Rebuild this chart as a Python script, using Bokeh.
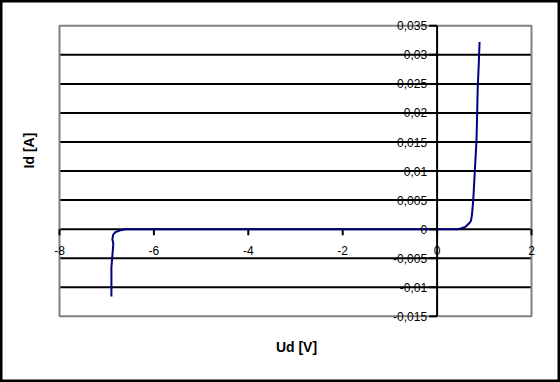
import math
from bokeh.plotting import figure
from bokeh.models import ColumnDataSource
from bokeh.core.properties import value
from bokeh.embed import file_html
from bokeh.resources import INLINE

# ---- data ----
voltage = [-6.90, -6.90, -6.86, -6.88, -6.86, -6.81, -6.71, -6.60, -4.0, -2.0, 0.0,
           0.45, 0.53, 0.60, 0.64, 0.69, 0.72, 0.74, 0.765, 0.80, 0.835, 0.85, 0.86, 0.88, 0.90]
current = [-0.0116, -0.0066, -0.0025, -0.0017, -0.0009, -0.0005, -0.0002, 0.0, 0.0, 0.0, 0.0,
           0.0, 0.0002, 0.0004, 0.0007, 0.0011, 0.0015, 0.0026, 0.0049, 0.0101, 0.0153, 0.0204,
           0.0242, 0.0279, 0.0322]

x_ticks = [-8, -6, -4, -2, 0, 2]
x_tick_labels = ["-8", "-6", "-4", "-2", "0", "2"]
y_ticks = [0.035, 0.03, 0.025, 0.02, 0.015, 0.01, 0.005, 0.0, -0.005, -0.01, -0.015]
y_tick_labels = ["0,035", "0,03", "0,025", "0,02", "0,015", "0,01", "0,005", "0",
                 "-0,005", "-0,01", "-0,015"]
x_title = "Ud [V]"
y_title = "Id [A]"

X_MIN, X_MAX = -8, 2
Y_MIN, Y_MAX = -0.015, 0.035

# pixel geometry of the plot area inside the 560x382 canvas
W, H = 560, 382
PL, PR, PT, PB = 59, 531, 25.3, 315.8
sx = (PR - PL) / (X_MAX - X_MIN)
sy = (PB - PT) / (Y_MAX - Y_MIN)
xr = (X_MIN - PL / sx, X_MAX + (W - PR) / sx)
yr = (Y_MIN - (H - PB) / sy, Y_MAX + PT / sy)

p = figure(width=W, height=H, x_range=xr, y_range=yr, output_backend="svg",
           toolbar_location=None, x_axis_location=None, y_axis_location=None,
           min_border=0, background_fill_color="white", border_fill_color="white")
p.xgrid.grid_line_color = None
p.ygrid.grid_line_color = None
p.outline_line_color = "black"
p.outline_line_width = 4

# horizontal gridlines (interior ticks)
inner = [t for t in y_ticks if Y_MIN < t < Y_MAX]
p.segment(x0=[X_MIN] * len(inner), x1=[X_MAX] * len(inner), y0=inner, y1=inner,
          line_color="black", line_width=2)

# plot-area border
p.quad(left=[X_MIN], right=[X_MAX], bottom=[Y_MIN], top=[Y_MAX],
       fill_color=None, line_color="#808080", line_width=2)

# x tick marks (below the y=0 axis)
p.ray(x=x_ticks, y=[0] * len(x_ticks), length=6, length_units="screen",
      angle=-math.pi / 2, line_color="black", line_width=2)

# data curve
src = ColumnDataSource(dict(v=voltage, i=current))
p.line("v", "i", source=src, line_color="#000080", line_width=2)

# y axis line and its ticks
p.segment(x0=[0], x1=[0], y0=[Y_MIN], y1=[Y_MAX], line_color="black", line_width=2)
p.ray(x=[0] * len(y_ticks), y=y_ticks, length=8, length_units="screen",
      angle=math.pi, line_color="black", line_width=2)

# tick labels
font = value("Liberation Sans")
p.text(x=[0] * len(y_ticks), y=y_ticks, text=y_tick_labels, x_offset=-10,
       text_align="right", text_baseline="middle", text_font=font,
       text_font_size="12px", text_color="black")
p.text(x=x_ticks, y=[0] * len(x_ticks), text=x_tick_labels, y_offset=21,
       text_align="center", text_baseline="middle", text_font=font,
       text_font_size="12px", text_color="black")

# axis titles
p.text(x=[X_MIN + (296 - PL) / sx], y=[Y_MAX - (346 - PT) / sy], text=[x_title],
       text_align="center", text_baseline="middle", text_font=font,
       text_font_size="14px", text_font_style="bold", text_color="black")
p.text(x=[X_MIN + (28 - PL) / sx], y=[Y_MAX - (150 - PT) / sy], text=[y_title],
       angle=math.pi / 2, text_align="center", text_baseline="middle", text_font=font,
       text_font_size="14px", text_font_style="bold", text_color="black")

open("out.html", "w").write(file_html(p, INLINE))
